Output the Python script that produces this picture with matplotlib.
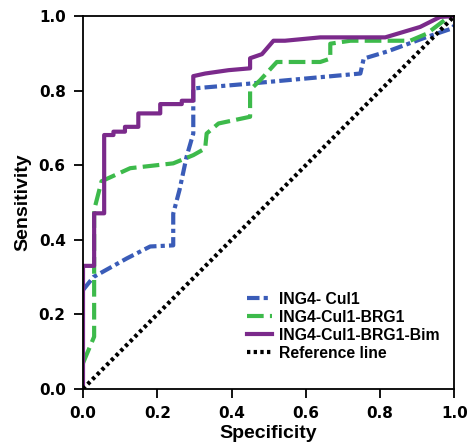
import matplotlib.pyplot as plt

plt.rcParams['font.family'] = ['Liberation Sans', 'DejaVu Sans']
plt.rcParams['font.weight'] = 'bold'

# ROC curve points
cul1_x = [0.0, 0.028, 0.118, 0.181, 0.243, 0.243, 0.26, 0.279, 0.297, 0.297, 0.45, 0.747, 0.756, 0.819, 0.926, 0.994, 1.0]
cul1_y = [0.265, 0.30, 0.35, 0.382, 0.385, 0.47, 0.534, 0.623, 0.685, 0.806, 0.819, 0.846, 0.886, 0.905, 0.944, 0.967, 0.975]

brg1_x = [0.0, 0.03, 0.03, 0.05, 0.127, 0.243, 0.297, 0.329, 0.333, 0.365, 0.45, 0.45, 0.477, 0.522, 0.639, 0.666, 0.666, 0.72, 0.881, 0.926, 0.98, 1.0]
brg1_y = [0.069, 0.14, 0.48, 0.557, 0.592, 0.605, 0.627, 0.645, 0.685, 0.712, 0.73, 0.802, 0.828, 0.877, 0.877, 0.886, 0.926, 0.934, 0.934, 0.953, 0.994, 1.0]

bim_x = [0.0, 0.0, 0.03, 0.03, 0.057, 0.057, 0.082, 0.082, 0.113, 0.113, 0.149, 0.149, 0.208, 0.208, 0.266, 0.266, 0.297, 0.297,
         0.329, 0.392, 0.45, 0.45, 0.482, 0.513, 0.544, 0.639, 0.814, 0.908, 0.962, 1.0]
bim_y = [0.0, 0.33, 0.33, 0.471, 0.471, 0.681, 0.681, 0.69, 0.69, 0.703, 0.703, 0.739, 0.739, 0.764, 0.764, 0.773, 0.773, 0.839,
         0.846, 0.855, 0.86, 0.887, 0.898, 0.934, 0.934, 0.943, 0.943, 0.971, 0.998, 1.0]

ref_x = [0.0, 1.0]
ref_y = [0.0, 1.0]

ticks = [0, 0.2, 0.4, 0.6, 0.8, 1.0]
tick_labels = ['0.0', '0.2', '0.4', '0.6', '0.8', '1.0']

fig = plt.figure(figsize=(4.7, 4.48), dpi=100)
ax = fig.add_axes([0.1766, 0.132, 0.79, 0.832])

ax.plot(cul1_x, cul1_y, color='#3a5cb8', lw=3, ls=(0, (3, 1, 1, 1)), label='ING4- Cul1')
ax.plot(brg1_x, brg1_y, color='#3dba4b', lw=3, ls=(0, (4, 1.5)), label='ING4-Cul1-BRG1')
ax.plot(bim_x, bim_y, color='#7b2a8b', lw=3, ls='-', label='ING4-Cul1-BRG1-Bim')
ax.plot(ref_x, ref_y, color='black', lw=3, ls=(0, (0.8, 0.8)), label='Reference line')

ax.set_xlim(0, 1)
ax.set_ylim(0, 1)
ax.set_xticks(ticks)
ax.set_yticks(ticks)
ax.set_xticklabels(tick_labels, family='DejaVu Sans', fontweight='bold')
ax.set_yticklabels(tick_labels, family='DejaVu Sans', fontweight='bold')
ax.tick_params(labelsize=11, width=1.3, length=6.5, pad=6)
for s in ax.spines.values():
    s.set_linewidth(1.3)
ax.set_xlabel('Specificity', fontsize=14, fontweight='bold', labelpad=3)
ax.set_ylabel('Sensitivity', fontsize=14, fontweight='bold', labelpad=5)

ax.legend(loc='center left', bbox_to_anchor=(0.442, 0.168), frameon=False, fontsize=11.3,
          handlelength=1.6, handletextpad=0.4, labelspacing=0.2, borderpad=0, borderaxespad=0)

fig.savefig('out.png', dpi=100)
